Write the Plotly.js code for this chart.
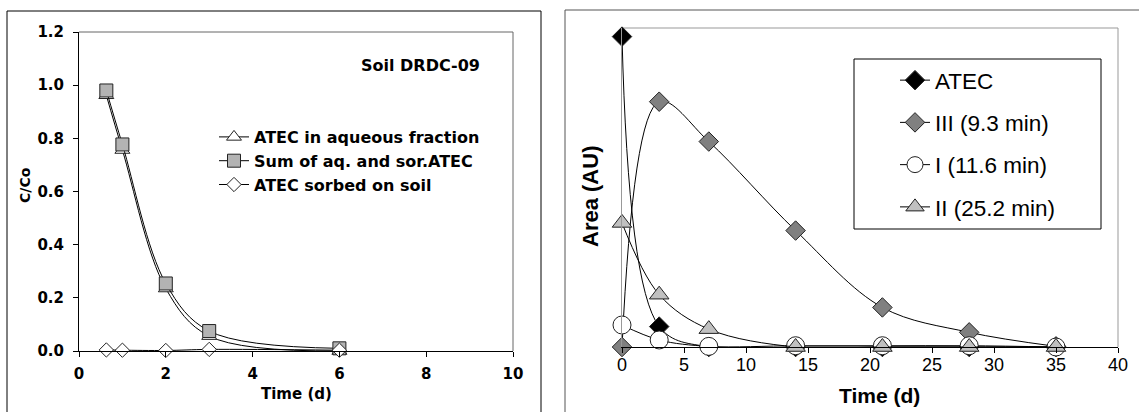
<!DOCTYPE html>
<html>
<head>
<meta charset="utf-8">
<script src="https://cdn.plot.ly/plotly-3.0.1.min.js"></script>
<style>
  html, body { margin: 0; padding: 0; background: #fff; }
  #chart { width: 1139px; height: 412px; }
</style>
</head>
<body>
<div id="chart"></div>
<script>
// Soil DRDC-09 batch test: fraction of ATEC remaining (C/Co) versus time (d)
const soilTime  = [0.63, 1, 2, 3, 6];
const aqueous   = [0.962, 0.756, 0.235, 0.056, 0.0];
const sumAqSor  = [0.98, 0.777, 0.254, 0.075, 0.01];
const sorbed    = [0.004, 0.003, 0.002, 0.006, 0.003];
const soilNames = ['ATEC in aqueous fraction', 'Sum of aq. and sor.ATEC', 'ATEC sorbed on soil'];

// ATEC and its transformation products: HPLC peak area (AU) versus time (d)
const prodTime  = [0, 3, 7, 14, 21, 28, 35];
const atecArea  = [97.3, 6.4, 0, 0, 0, 0, 0];
const peakIII   = [0, 76.9, 64.4, 36.5, 12.4, 4.6, 0.2];
const peakI     = [6.9, 2.2, 0.2, 0.4, 0.4, 0.4, 0];
const peakII    = [38.9, 16.4, 5.6, 0, 0, 0, 0];
const prodNames = ['ATEC', 'III (9.3 min)', 'I (11.6 min)', 'II (25.2 min)'];

const W = 1139, H = 412;
const px = x => x / W;
const py = y => 1 - y / H;
const WIDE = 'DejaVu Sans, Verdana, sans-serif';          // left panel lettering
const ARIAL = 'Liberation Sans, Arial, Helvetica, sans-serif'; // right panel lettering
const edge = {color: '#222', width: 1};
const spline = {shape: 'spline', smoothing: 1, color: '#000', width: 1};

function series(x, y, name, ax, leg, group, marker) {
  return {x, y, name, xaxis: ax[0], yaxis: ax[1], legend: leg, legendgroup: group,
          mode: 'lines+markers', line: spline, cliponaxis: false, marker};
}

const L = ['x', 'y'], R = ['x2', 'y2'];
const traces = [
  series(soilTime, aqueous, soilNames[0], L, 'legend', 'a1',
         {symbol: 'triangle-up', size: 13, color: '#fff', line: edge}),
  series(soilTime, sumAqSor, soilNames[1], L, 'legend', 'a2',
         {symbol: 'square', size: 13, color: '#b3b3b3', line: edge}),
  series(soilTime, sorbed, soilNames[2], L, 'legend', 'a3',
         {symbol: 'diamond', size: 11, color: '#fff', line: edge}),

  series(prodTime, atecArea, prodNames[0], R, 'legend2', 'b1',
         {symbol: 'diamond', size: 15, color: '#000', line: edge}),
  series(prodTime, peakIII, prodNames[1], R, 'legend2', 'b2',
         {symbol: 'diamond', size: 15, color: '#808080', line: edge}),
  series(prodTime, peakI, prodNames[2], R, 'legend2', 'b3',
         {symbol: 'circle', size: 18, color: '#fff', line: edge}),
  series(prodTime, peakII, prodNames[3], R, 'legend2', 'b4',
         {symbol: 'triangle-up', size: 17, color: '#c0c0c0', line: edge})
];

const leftTick = {family: WIDE, size: 15, color: '#000', weight: 'bold'};

const layout = {
  width: W, height: H,
  margin: {l: 0, r: 0, t: 0, b: 0},
  paper_bgcolor: '#fff', plot_bgcolor: 'rgba(0,0,0,0)',
  font: {family: ARIAL, color: '#000'},
  showlegend: true,
  xaxis: {
    domain: [px(79), px(513)], anchor: 'y', range: [0, 10], dtick: 2,
    ticks: 'outside', ticklen: 5, tickcolor: '#000', tickwidth: 1, ticklabelstandoff: 4,
    showline: true, linecolor: '#000', linewidth: 1,
    showgrid: false, zeroline: false, tickfont: leftTick, fixedrange: true
  },
  yaxis: {
    domain: [py(351), py(32)], anchor: 'x', range: [0, 1.2], dtick: 0.2, tickformat: '.1f',
    ticks: 'outside', ticklen: 5, tickcolor: '#000', tickwidth: 1, ticklabelstandoff: 6,
    showline: true, linecolor: '#000', linewidth: 1,
    showgrid: false, zeroline: false, tickfont: leftTick, fixedrange: true
  },
  xaxis2: {
    domain: [px(622), px(1118)], anchor: 'y2', range: [0, 40], dtick: 5,
    ticks: 'outside', ticklen: 5, tickcolor: '#000', tickwidth: 1, ticklabelstandoff: -4,
    showline: true, linecolor: '#000', linewidth: 1,
    showgrid: false, zeroline: false,
    tickfont: {family: ARIAL, size: 18, color: '#000'}, fixedrange: true
  },
  yaxis2: {
    domain: [py(347), py(28)], anchor: 'x2', range: [0, 100],
    ticks: '', showticklabels: false,
    showline: true, linecolor: '#999', linewidth: 1,
    showgrid: false, zeroline: false, fixedrange: true
  },
  legend: {
    x: px(214), y: py(120), xanchor: 'left', yanchor: 'top',
    bgcolor: 'rgba(0,0,0,0)', borderwidth: 0, itemsizing: 'trace', tracegroupgap: 0,
    font: {family: WIDE, size: 16, color: '#000', weight: 'bold'}
  },
  legend2: {
    x: px(895), y: py(59), xanchor: 'left', yanchor: 'top',
    bgcolor: 'rgba(0,0,0,0)', borderwidth: 0, itemsizing: 'trace',
    tracegroupgap: 10,
    font: {family: ARIAL, size: 22.5, color: '#000'}
  },
  shapes: [
    // outer frames of the two panels
    {type: 'rect', xref: 'paper', yref: 'paper', x0: px(7), x1: px(541), y0: -0.1, y1: py(11),
     line: {color: '#000', width: 1}},
    {type: 'rect', xref: 'paper', yref: 'paper', x0: px(565), x1: 1.1, y0: -0.1, y1: py(10),
     line: {color: '#555', width: 1}},
    // top and right borders of the plot areas
    {type: 'path', xref: 'paper', yref: 'paper', layer: 'below',
     path: `M${px(79)},${py(32)} H${px(513)} V${py(351)}`, line: {color: '#666', width: 1}},
    {type: 'path', xref: 'paper', yref: 'paper', layer: 'below',
     path: `M${px(622)},${py(28)} H${px(1118)} V${py(347)}`, line: {color: '#999', width: 1}},
    // legend box of the right panel
    {type: 'rect', xref: 'paper', yref: 'paper', x0: px(854), x1: px(1101), y0: py(229), y1: py(59),
     line: {color: '#000', width: 1}}
  ],
  annotations: [
    {text: 'Soil DRDC-09', xref: 'paper', yref: 'paper', x: px(482), y: py(65),
     xanchor: 'right', yanchor: 'middle', showarrow: false,
     font: {family: WIDE, size: 16, color: '#000', weight: 'bold'}},
    {text: 'C/Co', xref: 'paper', yref: 'paper', x: px(25), y: py(185), textangle: -90,
     xanchor: 'center', yanchor: 'middle', showarrow: false,
     font: {family: WIDE, size: 14, color: '#000', weight: 'bold'}},
    {text: 'Time (d)', xref: 'paper', yref: 'paper', x: px(296), y: py(394),
     xanchor: 'center', yanchor: 'middle', showarrow: false,
     font: {family: WIDE, size: 15, color: '#000', weight: 'bold'}},
    {text: 'Area (AU)', xref: 'paper', yref: 'paper', x: px(590), y: py(197), textangle: -90,
     xanchor: 'center', yanchor: 'middle', showarrow: false,
     font: {family: ARIAL, size: 22, color: '#000', weight: 'bold'}},
    {text: 'Time (d)', xref: 'paper', yref: 'paper', x: px(879), y: py(395),
     xanchor: 'center', yanchor: 'middle', showarrow: false,
     font: {family: ARIAL, size: 21, color: '#000', weight: 'bold'}}
  ]
};

Plotly.newPlot('chart', traces, layout, {staticPlot: true, displayModeBar: false});
</script>
</body>
</html>
